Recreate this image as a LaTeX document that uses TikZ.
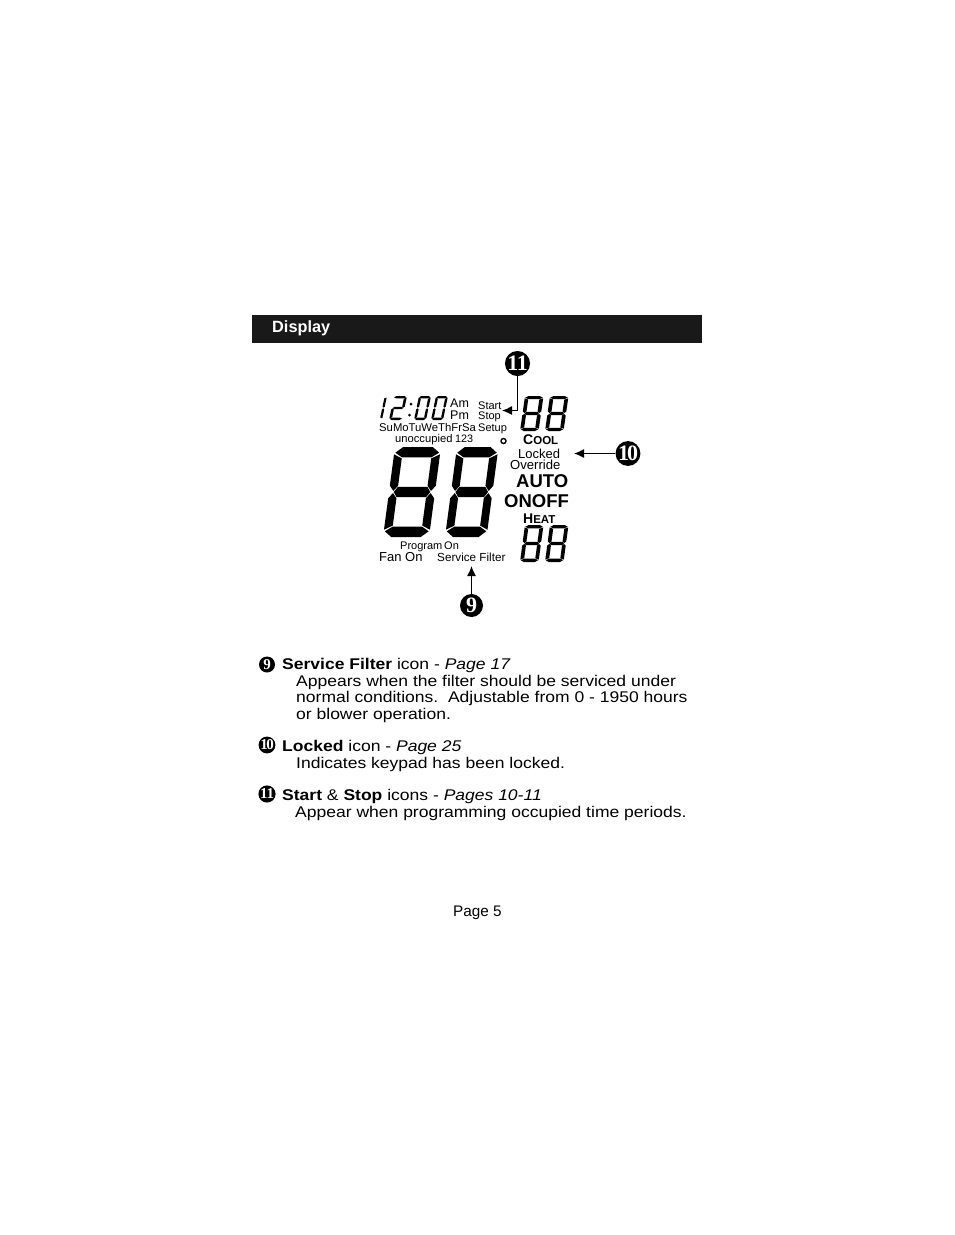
\documentclass[tikz,border=0pt]{standalone}
\usepackage{fontspec}
\setmainfont{Liberation Sans}
\newfontfamily\numfont{Liberation Serif}
\newfontfamily\widefont[FakeStretch=1.13]{Liberation Sans}
\usetikzlibrary{arrows.meta}
\newcommand{\fs}[1]{\fontsize{#1pt}{#1pt}\selectfont}
\tikzset{
  lbl/.style={anchor=base west,inner sep=0pt,text=black},
  body/.style={lbl,font=\widefont\fs{15.5}},
  num/.style={circle,fill=black,text=white,inner sep=0pt,minimum size=23pt,font=\numfont\bfseries\fs{22}},
  numsm/.style={circle,fill=black,text=white,inner sep=0pt,minimum size=16pt,font=\numfont\bfseries\fs{15}},
  pointer/.style={draw=black,line width=1.3pt,-{Latex[length=10pt,width=9pt]}},
  seg/.style={fill=black,draw=none}
}
% x, y(bottom), W, H, slant, tx, ty, g, type(8,0,2,1)
\newcommand{\segdigit}[9]{%
 \begin{scope}[shift={(#1,#2)},x={(#3pt,0pt)},y={(#5pt,#4pt)}]
  \def\tx{#6}\def\ty{#7}\def\g{#8}
  % top
  \ifnum#9=1 \else
  \fill[seg] (\tx,1)--(1-\tx,1)--(1-\g*2,1-.55*\ty)--(1-\tx,1-\ty)--(\tx,1-\ty)--(\g*2,1-.55*\ty)--cycle;
  % bottom
  \fill[seg] (\tx,0)--(1-\tx,0)--(1-\g*2,.55*\ty)--(1-\tx,\ty)--(\tx,\ty)--(\g*2,.55*\ty)--cycle;
  \fi
  % middle
  \ifnum#9=0 \else\ifnum#9=1 \else
  \fill[seg] (\tx/2+\g,.5)--(\tx,.5+\ty/2)--(1-\tx,.5+\ty/2)--(1-\tx/2-\g,.5)--(1-\tx,.5-\ty/2)--(\tx,.5-\ty/2)--cycle;
  \fi\fi
  % upper left
  \ifnum#9=1 \else\ifnum#9=2 \else
  \fill[seg] (0,1-.6*\ty-\g)--(\tx,1-\ty-\g)--(\tx,.5+\ty/2+\g)--(\tx/2,.5+\g)--(0,.5+\ty/2+\g)--cycle;
  \fi\fi
  % lower left
  \ifnum#9=1 \else
  \fill[seg] (0,.6*\ty+\g)--(\tx,\ty+\g)--(\tx,.5-\ty/2-\g)--(\tx/2,.5-\g)--(0,.5-\ty/2-\g)--cycle;
  \fi
  % upper right
  \fill[seg] (1,1-.6*\ty-\g)--(1-\tx,1-\ty-\g)--(1-\tx,.5+\ty/2+\g)--(1-\tx/2,.5+\g)--(1,.5+\ty/2+\g)--cycle;
  % lower right
  \ifnum#9=2 \else
  \fill[seg] (1,.6*\ty+\g)--(1-\tx,\ty+\g)--(1-\tx,.5-\ty/2-\g)--(1-\tx/2,.5-\g)--(1,.5-\ty/2-\g)--cycle;
  \fi
 \end{scope}}
\begin{document}
\begin{tikzpicture}[x=1pt,y=-1pt]
\useasboundingbox (0,0) rectangle (954,1235);
\fill[white] (0,0) rectangle (954,1235);
% header
\fill[black!90] (252,315) rectangle (702,343);
\node[lbl,text=white,font=\bfseries\fs{16.3}] (title) at (272,332) {Display};
% big digits
\segdigit{383}{537}{46}{90}{12}{.18}{.115}{.012}{8}
\segdigit{445}{537}{41.5}{90}{12}{.19}{.115}{.012}{8}
% clock 12:00
\segdigit{367}{420}{15}{24}{5}{.15}{.09}{.012}{1}
\segdigit{389}{420}{13}{24}{5}{.2}{.1}{.012}{2}
\segdigit{414}{420}{12}{24}{5}{.2}{.1}{.012}{0}
\segdigit{431}{420}{12}{24}{5}{.2}{.1}{.012}{0}
\fill[black] (411,404) circle (1.5) (409.5,415) circle (1.5);
% cool digits
\segdigit{520}{431}{18.5}{35}{5}{.2}{.09}{.012}{8}
\segdigit{545}{431}{18.5}{35}{5}{.2}{.09}{.012}{8}
% heat digits
\segdigit{520}{562}{18.5}{37}{5}{.2}{.09}{.012}{8}
\segdigit{545}{562}{18.5}{37}{5}{.2}{.09}{.012}{8}
% display labels
\node[lbl,font=\fs{12.5}] (am) at (450,407) {Am};
\node[lbl,font=\fs{12.5}] (pm) at (450,419) {Pm};
\node[lbl,font=\fs{11}] (start) at (478,409) {Start};
\node[lbl,font=\fs{11}] (stop) at (478,419) {Stop};
\node[lbl,font=\fs{11}] (setup) at (478,431) {Setup};
\node[lbl,font=\fs{11.3}] (days) at (379,431) {SuMoTuWeThFrSa};
\node[lbl,font=\fs{11.2}] (unocc) at (395,442) {unoccupied};
\node[lbl,font=\fs{10.8}] (n123) at (455,442) {123};
\node[circle,draw=black,line width=1.4pt,inner sep=0pt,minimum size=5pt] (deg) at (503.5,441) {};
\node[lbl,font=\bfseries\fs{14}] (cool) at (523,444) {C\fs{11.5}OOL};
\node[lbl,font=\fs{13}] (locked) at (518,458) {Locked};
\node[lbl,font=\fs{13.1}] (override) at (510,469) {Override};
\node[lbl,font=\bfseries\fs{18.5}] (auto) at (516,487) {AUTO};
\node[lbl,font=\bfseries\fs{18.5}] (onoff) at (504,507) {ONOFF};
\node[lbl,font=\bfseries\fs{14}] (heat) at (523,523) {H\fs{11.5}EAT};
\node[lbl,font=\fs{11}] (program) at (400,549) {Program};
\node[lbl,font=\fs{11}] (on) at (444,549) {On};
\node[lbl,font=\fs{13}] (fan) at (379,561) {Fan On};
\node[lbl,font=\fs{11.7}] (filter) at (437,561) {Service Filter};
% callouts
\node[num] (c11) at (517.5,363.5) {1\kern-1.5pt 1};
\node[num] (c10) at (628,453.5) {1\kern-2pt 0};
\node[num] (c9) at (471.5,605.5) {9};
\coordinate (bend) at (517.5,410.5);
\coordinate (t11) at (502,410.5);
\coordinate (t10) at (574,453.5);
\coordinate (t9) at (471.5,566);
\draw[pointer] (c11) -- (bend) -- (t11);
\draw[pointer] (c10) -- (t10);
\draw[pointer] (c9) -- (t9);
% description
\node[numsm] (b9) at (267,664.5) {9};
\node[body] (d1) at (282,669) {\textbf{Service Filter} icon - \textit{Page 17}};
\node[body] (d2) at (296,686) {Appears when the filter should be serviced under};
\node[body] (d3) at (296,702) {normal conditions.\ \ Adjustable from 0 - 1950 hours};
\node[body] (d4) at (296,719) {or blower operation.};
\node[numsm] (b10) at (267,745) {1\kern-1.5pt 0};
\node[body] (d5) at (282,751) {\textbf{Locked} icon - \textit{Page 25}};
\node[body] (d6) at (296,768) {Indicates keypad has been locked.};
\node[numsm] (b11) at (267,794) {1\kern-1pt 1};
\node[body] (d7) at (282,800) {\textbf{Start} \& \textbf{Stop} icons - \textit{Pages 10-11}};
\node[body] (d8) at (295,817) {Appear when programming occupied time periods.};
\node[lbl,font=\fs{15.3}] (page) at (453,916) {Page 5};
\end{tikzpicture}
\end{document}
